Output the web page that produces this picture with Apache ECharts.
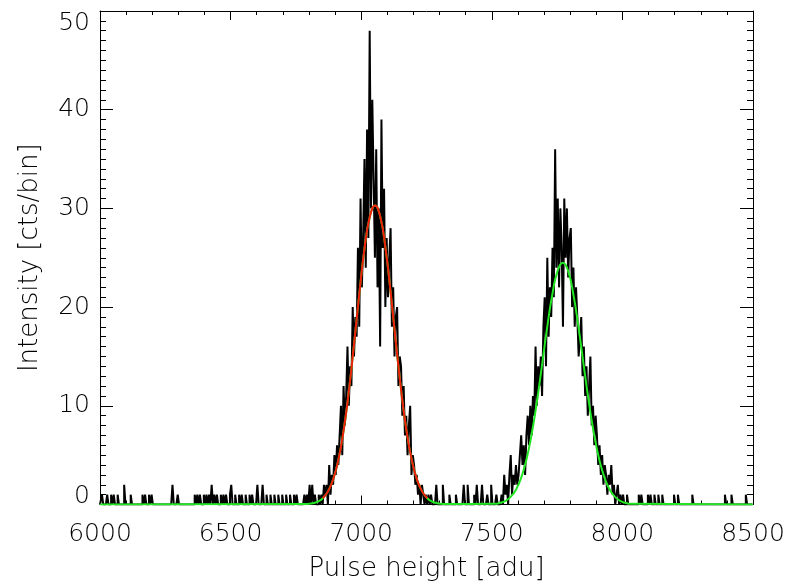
<!DOCTYPE html>
<html>
<head>
<meta charset="utf-8">
<script src="https://cdn.jsdelivr.net/npm/echarts@6/dist/echarts.min.js"></script>
<style>
  html, body { margin: 0; padding: 0; background: #fff; }
  #chart { width: 787px; height: 585px; }
</style>
</head>
<body>
<div id="chart"></div>
<script>
// histogram: 5 adu bins, counts per bin
const binWidth = 5
const xMin = 6000
const xMax = 8500

// first line (bins starting at 6840)
const peak1Start = 6840
const peak1Counts = [
  1, 0, 1, 0, 2, 1, 2, 0, 4, 1,
  3, 2, 5, 3, 6, 4, 7, 10, 5, 12,
  8, 11, 16, 10, 14, 12, 20, 15, 19, 17,
  26, 18, 31, 22, 27, 35, 24, 38, 27, 48,
  30, 41, 33, 25, 36, 22, 30, 16, 39, 26,
  32, 20, 27, 21, 25, 28, 18, 22, 15, 19,
  20, 12, 15, 14, 9, 12, 7, 9, 5, 8,
  10, 3, 5, 4, 2, 3, 1, 2, 0, 2,
  1, 0, 1, 0, 1, 0, 1, 0
]

// second line (bins starting at 7540)
const peak2Start = 7540
const peak2Counts = [
  1, 0, 3, 1, 2, 0, 3, 5, 1, 3,
  2, 4, 2, 3, 5, 7, 4, 6, 3, 7,
  9, 6, 10, 7, 11, 9, 16, 10, 14, 12,
  15, 11, 18, 21, 14, 25, 17, 22, 19, 26,
  21, 36, 24, 31, 22, 30, 26, 18, 31, 25,
  30, 23, 27, 28, 20, 24, 18, 22, 19, 15,
  17, 19, 13, 16, 11, 14, 9, 12, 15, 8,
  10, 6, 9, 7, 4, 6, 3, 5, 2, 4,
  3, 1, 3, 2, 4, 1, 2, 0, 1, 2,
  0, 1, 0, 1, 0
]

// isolated background counts [pulse height, counts]
const background = [
  [6011, 1], [6031, 1], [6046, 1], [6057, 1], [6069, 1], [6096, 2], [6119, 1],
  [6165, 1], [6176, 1], [6188, 1], [6199, 1], [6279, 2], [6302, 1],
  [6364, 1], [6375, 1], [6387, 1], [6398, 1], [6410, 1], [6421, 1], [6429, 2],
  [6440, 1], [6452, 1], [6463, 1], [6475, 1], [6486, 1], [6498, 1], [6505, 2],
  [6521, 1], [6536, 1], [6547, 1], [6559, 1], [6574, 1], [6586, 1], [6605, 2],
  [6624, 2], [6639, 1], [6655, 1], [6670, 1], [6685, 1], [6700, 1], [6716, 1],
  [6731, 1], [6747, 1], [6754, 1], [6785, 1], [6796, 1], [6804, 2], [6815, 2],
  [6827, 1],
  [7290, 2], [7313, 2], [7340, 1], [7367, 1], [7397, 2], [7409, 2], [7436, 1],
  [7447, 2], [7466, 2], [7485, 1], [7500, 2], [7520, 1],
  [8021, 1], [8064, 1], [8075, 1], [8098, 1], [8110, 1], [8125, 1], [8140, 1],
  [8156, 1], [8202, 1], [8213, 1], [8270, 1], [8397, 1], [8420, 1], [8477, 1]
]

// red fit (first line)
const redX = [6853, 6873, 6893, 6913, 6933, 6953, 6973, 6993, 7013, 7033, 7053,
  7073, 7093, 7113, 7133, 7153, 7173, 7193, 7213, 7233, 7253]
const redY = [0.64, 1.33, 2.57, 4.58, 7.56, 11.55, 16.34, 21.41, 25.97, 29.15, 30.3,
  29.15, 25.97, 21.41, 16.34, 11.55, 7.56, 4.58, 2.57, 1.33, 0.64]

// green fit (whole range)
const greenX = [6000, 6793, 6813, 6833, 6853, 6873, 6893, 6913, 6933, 6953, 6973, 6993,
  7013, 7033, 7053, 7073, 7093, 7113, 7133, 7153, 7173, 7193, 7213, 7233, 7253,
  7273, 7293, 7313,
  7512, 7532, 7552, 7572, 7592, 7612, 7632, 7652, 7672, 7692, 7712, 7732, 7752,
  7772, 7792, 7812, 7832, 7852, 7872, 7892, 7912, 7932, 7952, 7972, 7992, 8012,
  8032, 8500]
const greenY = [0, 0.05, 0.12, 0.28, 0.64, 1.33, 2.57, 4.58, 7.56, 11.55, 16.34, 21.41,
  25.97, 29.15, 30.3, 29.15, 25.97, 21.41, 16.34, 11.55, 7.56, 4.58, 2.57, 1.33, 0.64,
  0.28, 0.12, 0.05,
  0.07, 0.17, 0.37, 0.77, 1.48, 2.67, 4.49, 7.04, 10.31, 14.08, 17.94, 21.33, 23.67,
  24.5, 23.67, 21.33, 17.94, 14.08, 10.31, 7.04, 4.49, 2.67, 1.48, 0.77, 0.37, 0.17,
  0.07, 0]

// build the histogram table
const nBins = (xMax - xMin) / binWidth + 1
const counts = new Array(nBins).fill(0)
background.forEach(([x, c]) => {
  counts[Math.round((x - xMin) / binWidth)] = c
})
peak1Counts.forEach((c, i) => {
  counts[(peak1Start - xMin) / binWidth + i] = c
})
peak2Counts.forEach((c, i) => {
  counts[(peak2Start - xMin) / binWidth + i] = c
})
const histData = counts.map((c, i) => [xMin + i * binWidth, c])

const font = "'DejaVu Sans', sans-serif"
const textColor = '#000'

// shared axis pieces
const frameLine = { show: true, onZero: false, lineStyle: { color: '#000', width: 1 } }

const option = {
  animation: false,
  backgroundColor: '#fff',
  grid: { left: 100, right: 34, top: 11, bottom: 80.5, outerBoundsMode: 'none' },
  xAxis: [
    {
      type: 'value',
      min: xMin,
      max: xMax,
      interval: 500,
      position: 'bottom',
      axisLine: frameLine,
      axisTick: { inside: true, length: 9, lineStyle: { color: '#000' } },
      minorTick: { show: true, splitNumber: 5, length: 4, lineStyle: { color: '#000' } },
      splitLine: { show: false },
      axisLabel: {
        margin: 17, fontSize: 25, fontFamily: font, fontWeight: 200, color: textColor,
        formatter: (v) => String(v)
      },
      name: 'Pulse height [adu]',
      nameLocation: 'middle',
      nameGap: 52,
      nameTextStyle: { fontSize: 26, fontFamily: font, fontWeight: 200, color: textColor }
    },
    {
      type: 'value',
      min: xMin,
      max: xMax,
      interval: 500,
      position: 'top',
      axisLine: frameLine,
      axisTick: { inside: true, length: 9, lineStyle: { color: '#000' } },
      minorTick: { show: true, splitNumber: 5, length: 4, lineStyle: { color: '#000' } },
      splitLine: { show: false },
      axisLabel: { show: false }
    }
  ],
  yAxis: [
    {
      type: 'value',
      min: 0,
      max: 50,
      interval: 10,
      position: 'left',
      axisLine: frameLine,
      axisTick: { inside: true, length: 13, lineStyle: { color: '#000' } },
      minorTick: { show: true, splitNumber: 10, length: 6, lineStyle: { color: '#000' } },
      splitLine: { show: false },
      axisLabel: {
        margin: 10, fontSize: 25, fontFamily: font, fontWeight: 200, color: textColor,
        verticalAlignMinLabel: 'bottom', verticalAlignMaxLabel: 'top',
        // the 0 label sits just above the bottom frame
        formatter: (v) => (v === 0 ? '{z|0}' : String(v)),
        rich: { z: { fontSize: 25, fontFamily: font, fontWeight: 200, color: textColor, lineHeight: 16 } }
      },
      name: 'Intensity [cts/bin]',
      nameLocation: 'middle',
      nameGap: 57,
      nameTextStyle: { fontSize: 26, fontFamily: font, fontWeight: 200, color: textColor }
    },
    {
      type: 'value',
      min: 0,
      max: 50,
      interval: 10,
      position: 'right',
      axisLine: frameLine,
      axisTick: { inside: true, length: 13, lineStyle: { color: '#000' } },
      minorTick: { show: true, splitNumber: 10, length: 6, lineStyle: { color: '#000' } },
      splitLine: { show: false },
      axisLabel: { show: false }
    }
  ],
  series: [
    {
      // measured spectrum
      type: 'line',
      data: histData,
      step: 'middle',
      showSymbol: false,
      sampling: false,
      lineStyle: { color: '#000', width: 2 },
      z: 2
    },
    {
      // total fit
      type: 'line',
      data: greenX.map((x, i) => [x, greenY[i]]),
      smooth: 0.5,
      showSymbol: false,
      lineStyle: { color: '#22e622', width: 2 },
      z: 3
    },
    {
      // first line fit
      type: 'line',
      data: redX.map((x, i) => [x, redY[i]]),
      smooth: 0.5,
      showSymbol: false,
      lineStyle: { color: '#f01e0a', width: 2 },
      z: 4
    }
  ]
}

const myChart = echarts.init(document.getElementById('chart'))
myChart.setOption(option)
</script>
</body>
</html>
